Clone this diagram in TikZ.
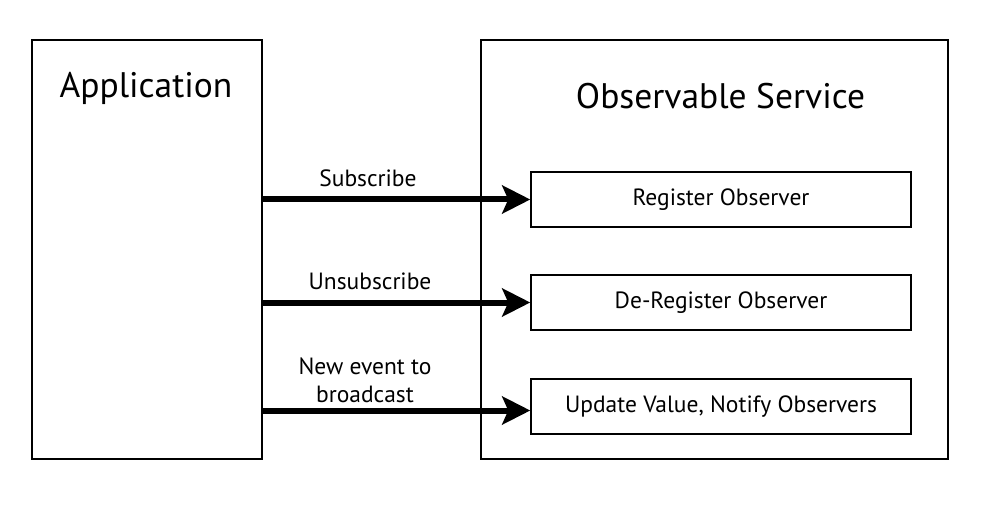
\documentclass[tikz,border=0pt]{standalone}
\usepackage{fontspec}
\setmainfont{PT Sans}
\usetikzlibrary{arrows.meta}
\tikzset{every picture/.style={line width=0.75pt}}
\begin{document}
\begin{tikzpicture}[x=1pt,y=1pt,yscale=-1,xscale=1]
	\useasboundingbox (0,0) rectangle (996,513);
	\tikzset{
		frame/.style={draw,line width=1.5pt,inner sep=0pt},
		opbox/.style={draw,line width=1.5pt,minimum width=380pt,minimum height=55pt,inner sep=0pt,font=\fontsize{23.5}{28}\selectfont},
		title/.style={font=\fontsize{35.5}{40}\selectfont},
		msg/.style={font=\fontsize{23.5}{28}\selectfont,align=center},
		flow/.style={line width=6pt,-{Stealth[length=28pt,width=28pt,inset=6pt]}}
	}

	%Shape: Rectangle [id:app]
	\node[frame,minimum width=230pt,minimum height=419pt] (app) at (147,249.5) {};
	%Shape: Rectangle [id:svc]
	\node[frame,minimum width=467pt,minimum height=419pt] (svc) at (714.5,249.5) {};

	% Text Node
	\node[title] (apptitle) at (146,88) {Application};
	% Text Node
	\node[title] (svctitle) at (720.5,96) {Observable Service};

	%Shape: Rectangle [id:reg]
	\node[opbox] (reg) at (721,199.5) {Register Observer};
	%Shape: Rectangle [id:dereg]
	\node[opbox] (dereg) at (721,302.5) {De-Register Observer};
	%Shape: Rectangle [id:upd]
	\node[opbox] (upd) at (721,406.5) {Update Value, Notify Observers};

	%Straight Lines [id:flows]
	\draw[flow] (app.east |- reg.west) -- (reg.west);
	\draw[flow] (app.east |- dereg.west) -- (dereg.west);
	\coordinate (updin) at ([yshift=4pt]upd.west);
	\draw[flow] (app.east |- updin) -- (updin);

	% Text Node
	\node[msg] (sublbl) at (368,178) {Subscribe};
	% Text Node
	\node[msg] (unsublbl) at (370,281) {Unsubscribe};
	% Text Node
	\node[msg] (newlbl) at (365,380) {New event to\\broadcast};

\end{tikzpicture}
\end{document}
